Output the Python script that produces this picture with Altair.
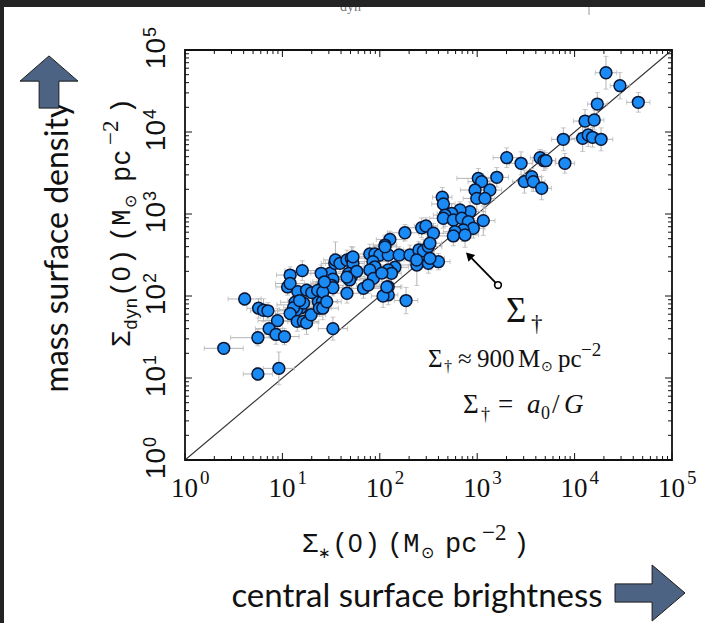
import altair as alt
import pandas as pd

# ---------------- data ----------------
sigma_star = [
    4.1, 2.5, 5.6, 5.6, 9.2, 5.7, 6.4, 7.1, 8.9, 7.3,
    8.6, 10.5, 12, 16, 11.3, 12, 14.4, 17.7, 14.6, 13.5,
    15.5, 14, 16.5, 13, 15, 12, 14.2, 16.4, 17.7, 19.7,
    22.8, 26, 27, 23.4, 25.8, 24, 26, 31, 32, 33,
    33, 34.5, 32, 20, 23, 33, 26,
    79, 89, 100, 122, 158, 204, 127, 113, 181, 269,
    298, 355, 252, 280, 315, 327, 240, 315, 400, 327,
    143, 122, 132, 85, 89, 79, 35, 39, 46, 51,
    53, 48, 51, 58, 49, 86, 68, 76, 122, 122,
    186, 25, 27, 28.5, 46, 108, 239, 113, 105, 118,
    53, 46,
    438, 450, 2010, 2820, 4420, 4850, 5080, 1590, 1026, 1110,
    3050, 3630, 3770, 4590, 950, 1350, 990, 1200, 1155, 844,
    666, 547, 467, 449, 569, 693, 811, 912, 720, 592,
    750, 569,
    21000, 29200, 45100, 17100, 12800, 15900, 12100, 13800, 15300, 18700,
    7660, 7950,
]
sigma_dyn = [
    92, 23, 31, 11.2, 13.1, 71, 67, 66, 50, 40,
    34, 32, 180, 204, 129, 142, 113, 118, 78, 84,
    72, 68, 82, 72, 88, 61, 49, 49, 47, 59,
    113, 129, 143, 85, 86, 71, 71, 190, 149, 160,
    40, 250, 135, 110, 117, 126, 112,
    325, 325, 316, 316, 316, 316, 490, 418, 590, 680,
    714, 582, 365, 355, 400, 440, 239, 250, 262, 288,
    224, 208, 189, 262, 227, 208, 275, 250, 275, 289,
    250, 189, 172, 200, 157, 164, 124, 136, 130, 103,
    88, 189, 149, 85, 108, 100, 275, 398, 190, 129,
    300, 170,
    1600, 1325, 4860, 4150, 4850, 4470, 4470, 2800, 2720, 2480,
    2480, 2850, 2480, 2060, 1960, 1960, 1550, 1550, 830, 1070,
    1120, 1020, 970, 887, 845, 887, 805, 670, 638, 608,
    555, 540,
    52800, 36700, 23000, 21900, 13600, 14000, 8380, 9190, 8610, 8140,
    8140, 4150,
]
err_star_dex = [
    .17, .20, .28, .15, .16, .12, .10, .18, .20, .14,
    .12, .15, .14, .18, .12, .15, .10, .16, .22, .15,
    .12, .18, .14, .10, .12, .15, .14, .16, .12, .15,
    .18, .12, .14, .20, .15, .12, .16, .20, .15, .12,
    .15, .14, .12, .14, .12, .10, .12,
    .16, .12, .14, .10, .12, .15, .14, .12, .18, .14,
    .12, .15, .16, .10, .14, .12, .18, .14, .12, .15,
    .14, .12, .10, .16, .12, .14, .12, .15, .10, .14,
    .12, .16, .14, .12, .15, .14, .18, .12, .14, .10,
    .12, .14, .12, .15, .14, .12, .13, .12, .15, .14,
    .12, .14,
    .10, .12, .14, .12, .10, .12, .10, .12, .22, .14,
    .12, .10, .12, .10, .15, .12, .14, .10, .12, .16,
    .14, .15, .12, .14, .12, .10, .15, .12, .14, .12,
    .14, .16,
    .11, .10, .12, .10, .12, .10, .12, .10, .14, .12,
    .12, .10,
]
err_dyn_dex = [
    .08, .07, .10, .08, .20, .12, .14, .10, .15, .10,
    .12, .10, .10, .12, .10, .09, .10, .08, .14, .10,
    .10, .15, .08, .10, .14, .10, .12, .10, .14, .10,
    .12, .10, .09, .12, .10, .10, .14, .14, .10, .10,
    .14, .12, .10, .10, .10, .10, .10,
    .12, .10, .12, .14, .10, .12, .10, .12, .10, .12,
    .10, .12, .10, .14, .12, .10, .25, .12, .10, .14,
    .12, .10, .12, .14, .10, .12, .22, .10, .12, .14,
    .10, .12, .14, .10, .12, .10, .12, .10, .14, .12,
    .16, .10, .12, .10, .12, .14, .10, .12, .10, .12,
    .12, .10,
    .12, .14, .12, .14, .10, .12, .10, .12, .12, .10,
    .14, .10, .12, .14, .12, .12, .14, .12, .18, .12,
    .10, .12, .14, .12, .10, .12, .14, .12, .14, .12,
    .15, .12,
    .20, .16, .12, .14, .14, .12, .16, .14, .12, .14,
    .14, .12,
]

decades = [1, 10, 100, 1000, 10000, 100000]
decade_exp = ["0", "1", "2", "3", "4", "5"]
minor_steps = [2, 3, 4, 5, 6, 7, 8, 9]

# one-to-one line and the Sigma_dagger annotation (data coordinates)
diag_x = [1, 100000]
diag_y = [1, 100000]
ann_line_x = [1635, 841]
ann_line_y = [136, 304]
ann_head_x = [841]
ann_head_y = [304]
ann_circle_x = [1635]
ann_circle_y = [136]

# ---------------- layout ----------------
W, H = 487, 410
L, T = 185, 50
SERIF = "Liberation Serif"
MONO = "Liberation Mono"
SANS = "Liberation Sans"
HUM = "Lato"
INK = "#111111"

sx = alt.Scale(type="log", domain=[1, 100000], nice=False)
sy = alt.Scale(type="log", domain=[1, 100000], nice=False)


def X(f):
    return alt.X(f, type="quantitative", scale=sx, axis=None)


def Y(f):
    return alt.Y(f, type="quantitative", scale=sy, axis=None)


rows = []
for x, y, ex, ey in zip(sigma_star, sigma_dyn, err_star_dex, err_dyn_dex):
    rows.append({"x": x, "y": y,
                 "xlo": x / 10 ** ex, "xhi": x * 10 ** ex,
                 "ylo": y / 10 ** ey, "yhi": y * 10 ** ey})
pts = pd.DataFrame(rows)
capx = pd.DataFrame([{"x": r["xlo"], "y": r["y"]} for r in rows] +
                    [{"x": r["xhi"], "y": r["y"]} for r in rows])
capy = pd.DataFrame([{"x": r["x"], "y": r["ylo"]} for r in rows] +
                    [{"x": r["x"], "y": r["yhi"]} for r in rows])

major_df = pd.DataFrame({"v": decades, "e": decade_exp})
minor_df = pd.DataFrame({"v": [m * d for d in decades[:-1] for m in minor_steps]})
one = pd.DataFrame({"k": [0]})

ERR = "#b3b3b3"
layers = []

# diagonal
layers.append(alt.Chart(pd.DataFrame({"x": diag_x, "y": diag_y}))
              .mark_line(color="#333333", strokeWidth=1.1)
              .encode(x=X("x"), y=Y("y")))
# error bars
layers.append(alt.Chart(pts).mark_rule(color=ERR, strokeWidth=1)
              .encode(x=X("xlo"), x2="xhi", y=Y("y")))
layers.append(alt.Chart(pts).mark_rule(color=ERR, strokeWidth=1)
              .encode(y=Y("ylo"), y2="yhi", x=X("x")))
layers.append(alt.Chart(capx).mark_tick(color=ERR, orient="vertical", size=5, thickness=1)
              .encode(x=X("x"), y=Y("y")))
layers.append(alt.Chart(capy).mark_tick(color=ERR, orient="horizontal", size=5, thickness=1)
              .encode(x=X("x"), y=Y("y")))
# points
layers.append(alt.Chart(pts).mark_circle(size=140, fill="#1a8af5", stroke="#0b1633",
                                         strokeWidth=1.5, opacity=1, fillOpacity=1)
              .encode(x=X("x"), y=Y("y")))

# annotation arrow
layers.append(alt.Chart(pd.DataFrame({"x": ann_line_x, "y": ann_line_y}))
              .mark_line(color="black", strokeWidth=1.8)
              .encode(x=X("x"), y=Y("y")))
layers.append(alt.Chart(pd.DataFrame({"x": ann_head_x, "y": ann_head_y}))
              .mark_point(shape="triangle", angle=315, size=90, filled=True,
                          color="black", opacity=1)
              .encode(x=X("x"), y=Y("y")))
layers.append(alt.Chart(pd.DataFrame({"x": ann_circle_x, "y": ann_circle_y}))
              .mark_point(shape="circle", size=45, filled=True, fill="white",
                          stroke="black", strokeWidth=1.6, opacity=1)
              .encode(x=X("x"), y=Y("y")))


def dpiece(ax, ay, txt, dx, dy, size, italic=False, font=SERIF):
    kw = dict(align="left", baseline="alphabetic", font=font, fontSize=size,
              dx=dx, dy=dy, color=INK)
    if italic:
        kw["fontStyle"] = "italic"
    return (alt.Chart(pd.DataFrame({"x": [ax], "y": [ay]}))
            .mark_text(**kw).encode(x=X("x"), y=Y("y"), text=alt.value(txt)))


# big Sigma dagger
layers.append(dpiece(1976, 48.2, "Σ", 0, 0, 35))
layers.append(dpiece(1976, 48.2, "†", 25, 9, 23))
# line 1: Sigma_dagger ~ 900 Msun pc^-2
for t, dx, dy, s in [("Σ", 0, 0, 25), ("†", 16, 5, 16), ("≈", 30, 0, 25),
                     ("900", 49, 0, 25), ("M", 90, 0, 25),
                     ("⊙", 113, 4, 14), ("pc", 130, 0, 25), ("−2", 153, -11, 19)]:
    layers.append(dpiece(312.6, 13.6, t, dx, dy, s))
# line 2: Sigma_dagger = a0/G
for t, dx, dy, s, it in [("Σ", 0, 0, 27, False), ("†", 18, 7, 18, False),
                         ("=", 35, 0, 27, False), ("a", 64, 0, 27, True),
                         ("0", 78, 6, 18, False), ("/", 89, 0, 27, False),
                         ("G", 101, 0, 27, True)]:
    layers.append(dpiece(715, 3.74, t, dx, dy, s, it))

# frame ticks (inward)
for df, ln in [(major_df, 7), (minor_df, 4)]:
    layers.append(alt.Chart(df).mark_rule(color=INK, strokeWidth=1)
                  .encode(x=X("v"), y=alt.value(H), y2=alt.value(H - ln)))
    layers.append(alt.Chart(df).mark_rule(color=INK, strokeWidth=1)
                  .encode(x=X("v"), y=alt.value(0), y2=alt.value(ln)))
    layers.append(alt.Chart(df).mark_rule(color=INK, strokeWidth=1)
                  .encode(y=Y("v"), x=alt.value(0), x2=alt.value(ln)))
    layers.append(alt.Chart(df).mark_rule(color=INK, strokeWidth=1)
                  .encode(y=Y("v"), x=alt.value(W), x2=alt.value(W - ln)))

# tick labels
layers.append(alt.Chart(major_df).mark_text(align="right", baseline="alphabetic", dx=13,
                                            font=SERIF, fontSize=27, color=INK)
              .encode(x=X("v"), y=alt.value(497 - T), text=alt.value("10")))
layers.append(alt.Chart(major_df).mark_text(align="left", baseline="alphabetic", dx=15, dy=-13,
                                            font=SERIF, fontSize=19, color=INK)
              .encode(x=X("v"), y=alt.value(497 - T), text="e:N"))
layers.append(alt.Chart(major_df).mark_text(angle=270, align="right", baseline="alphabetic", dx=12,
                                            font=SANS, fontSize=28, color=INK)
              .encode(y=Y("v"), x=alt.value(165 - L), text=alt.value("10")))
layers.append(alt.Chart(major_df).mark_text(angle=270, align="left", baseline="alphabetic", dx=13, dy=-9,
                                            font=SANS, fontSize=18, color=INK)
              .encode(y=Y("v"), x=alt.value(165 - L), text="e:N"))


def vpiece(txt, xa, ya, size, font, dx=0, dy=0, angle=0, align="left", color=INK):
    kw = dict(align=align, baseline="alphabetic", font=font, fontSize=size,
              dx=dx, dy=dy, color=color)
    if angle:
        kw["angle"] = angle
    return (alt.Chart(one).mark_text(**kw)
            .encode(x=alt.value(xa - L), y=alt.value(ya - T), text=alt.value(txt)))


# axis titles (typewriter style, built from pieces for sub/superscripts)
title_pieces = [("Σ", 0, 0, 27, MONO), ("∗", 16, 6, 15, SERIF),
                ("(", 30, 0, 27, MONO), ("0", 46, 0, 26, SANS), (")", 62, 0, 27, MONO),
                ("(M", 85, 0, 27, MONO), ("⊙", 119, 6, 16, MONO), ("pc", 143, 0, 27, MONO),
                ("−2", 180, -12, 23, SERIF), (")", 211, 0, 27, MONO)]
for t, dx, dy, s, f in title_pieces:
    layers.append(vpiece(t, 302, 552, s, f, dx=dx, dy=dy))
ytitle_pieces = [("Σ", 0, 0, 27, MONO), ("dyn", 17, 7, 18, MONO),
                 ("(", 50, 0, 27, MONO), ("0", 66, 0, 26, SANS), (")", 82, 0, 27, MONO),
                 ("(M", 105, 0, 27, MONO), ("⊙", 139, 6, 16, MONO), ("pc", 165, 0, 27, MONO),
                 ("−2", 202, -12, 23, SERIF), (")", 233, 0, 27, MONO)]
for t, dx, dy, s, f in ytitle_pieces:
    layers.append(vpiece(t, 130, 347, s, f, dx=dx, dy=dy, angle=270))

# outer slide labels
layers.append(vpiece("central surface brightness", 417, 607, 33, HUM, align="center"))
layers.append(vpiece("mass surface density", 68, 247, 32, HUM, angle=270, align="center"))

ARROW = "#4d6383"
up_path = "M0,-0.9 L1,-0.03 L0.34,-0.03 L0.34,0.9 L-0.34,0.9 L-0.34,-0.03 L-1,-0.03 Z"
right_path = "M1,0 L0.06,-0.8 L0.06,-0.26 L-1,-0.26 L-1,0.26 L0.06,0.26 L0.06,0.8 Z"
layers.append(alt.Chart(one).mark_point(shape=up_path, size=58 * 58, filled=True, fill=ARROW,
                                        stroke="#1a1a1a", strokeWidth=1, opacity=1)
              .encode(x=alt.value(49 - L), y=alt.value(82 - T)))
layers.append(alt.Chart(one).mark_point(shape=right_path, size=70 * 70, filled=True, fill=ARROW,
                                        stroke="#1a1a1a", strokeWidth=1, opacity=1)
              .encode(x=alt.value(650 - L), y=alt.value(593 - T)))

# screenshot edge remnants
layers.append(vpiece("dyn", 340, 11, 14, SERIF, color="#777777"))
layers.append(alt.Chart(one).mark_rule(color="#999999", strokeWidth=1)
              .encode(x=alt.value(589 - L), y=alt.value(7 - T), y2=alt.value(15 - T)))
layers.append(alt.Chart(one).mark_rect(color="#232323")
              .encode(x=alt.value(-L), x2=alt.value(705 - L), y=alt.value(-T), y2=alt.value(7 - T)))
layers.append(alt.Chart(one).mark_rect(color="#232323")
              .encode(x=alt.value(-L), x2=alt.value(4 - L), y=alt.value(-T), y2=alt.value(623 - T)))

chart = (alt.layer(*layers)
         .properties(width=W, height=H, background="white",
                     autosize=alt.AutoSizeParams(type="none"),
                     padding={"left": L, "top": T, "right": 705 - L - W, "bottom": 623 - T - H})
         .configure_view(stroke=INK, strokeWidth=1.8))

chart.save("out.html", embed_options={"renderer": "svg", "actions": False})
